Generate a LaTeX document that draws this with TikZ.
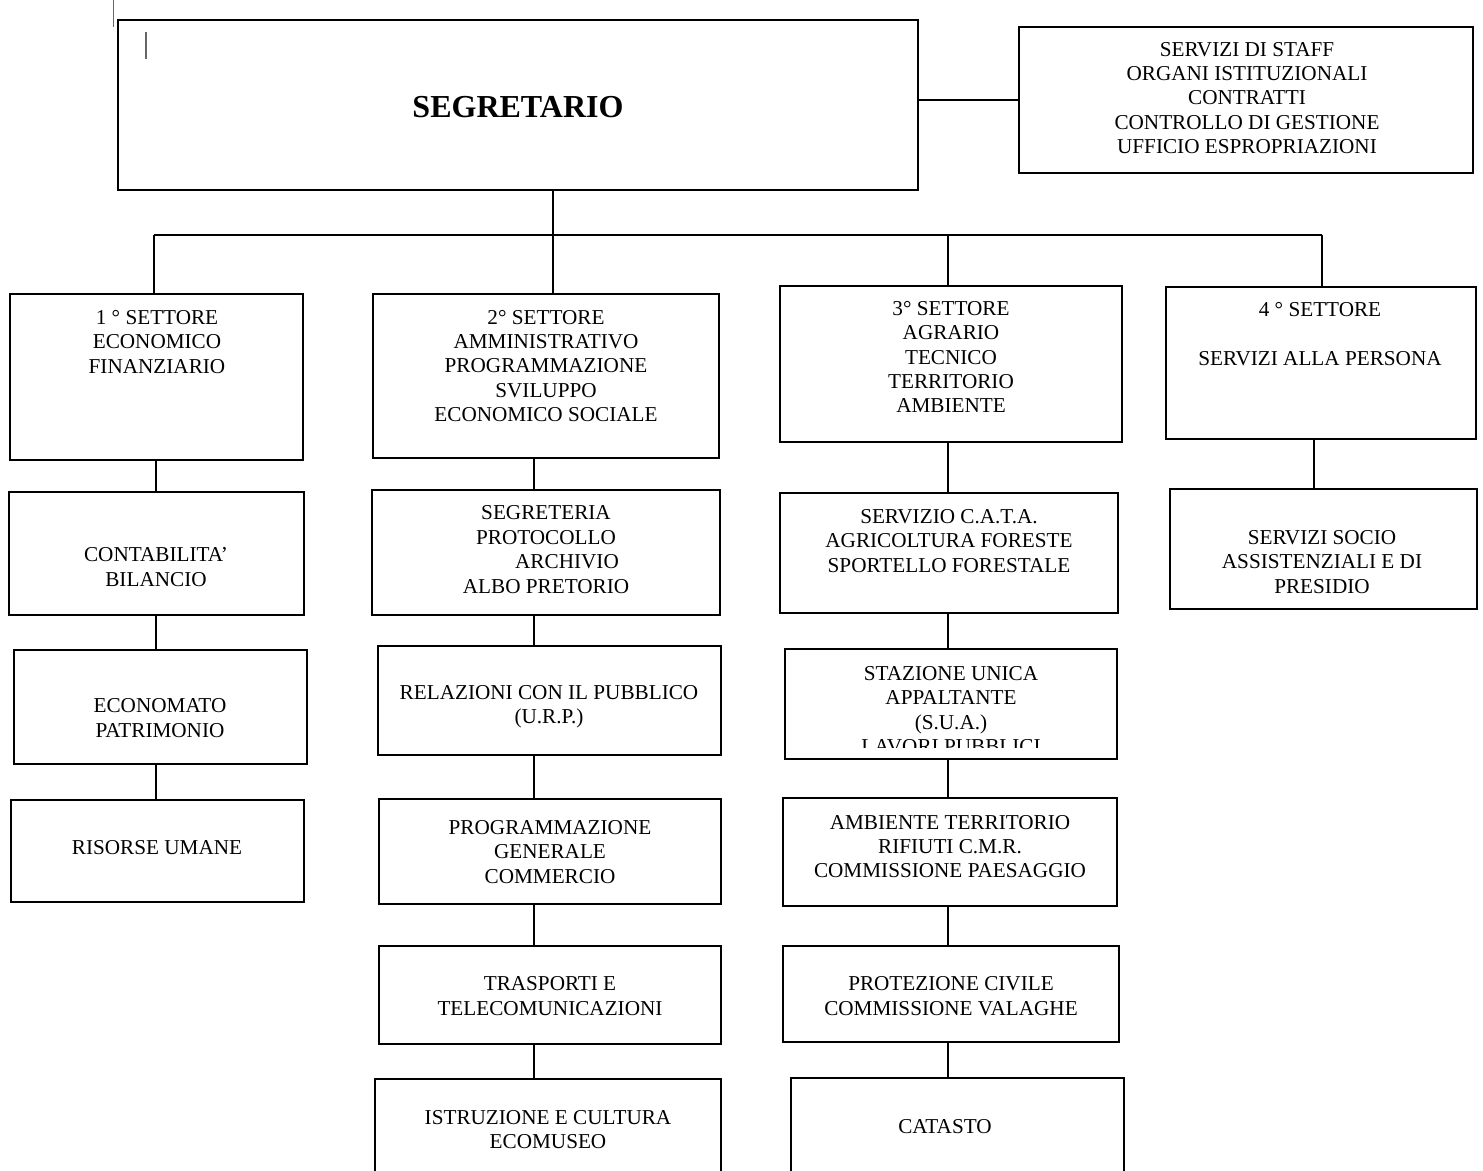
\documentclass[tikz,border=0pt]{standalone}
\usepackage{fontspec}
\setmainfont{Liberation Serif}
\usetikzlibrary{fit, positioning}

\begin{document}
\begin{tikzpicture}[
            x = 0.5pt, % one unit = one pixel of the sheet
            y = -0.5pt, % y grows downwards
            line width = 0.8pt, % line style
        ]
\tikzstyle{box}=[
            shape = rectangle,
            draw = black,
            inner sep = 0pt
        ]
\tikzstyle{boxtext}=[
            align = center,
            inner sep = 0pt,
            font = \fontsize{10.6}{12.2}\selectfont
        ]
\tikzstyle{cursor}=[
            draw = black!60,
            line width = 0.7pt
        ]
\useasboundingbox (0,0) rectangle (1483,1171);
\clip (0,0) rectangle (1483,1171);

% stray marks at the top
\draw[cursor] (113.5,0) -- (113.5,27);
\draw[cursor] (146,32) -- (146,59);

% top level
\node[box, fit={(118,20) (918,190)}](seg){};
\node[box, fit={(1019,27) (1473,173)}](staff){};
\node[boxtext, font=\fontsize{16}{19}\selectfont\bfseries](segt) at (518,107){SEGRETARIO};
\node[boxtext](stafft) at (1247,98){SERVIZI DI STAFF\\ORGANI ISTITUZIONALI\\CONTRATTI\\CONTROLLO DI GESTIONE\\UFFICIO ESPROPRIAZIONI};

% settori
\node[box, fit={(10,294) (303,460)}](s1){};
\node[box, fit={(373,294) (719,458)}](s2){};
\node[box, fit={(780,286) (1122,442)}](s3){};
\node[box, fit={(1166,287) (1476,439)}](s4){};
\node[boxtext](s1t) at (157,342){1 ° SETTORE\\ECONOMICO\\FINANZIARIO};
\node[boxtext](s2t) at (546,366){2° SETTORE\\AMMINISTRATIVO\\PROGRAMMAZIONE\\SVILUPPO\\ECONOMICO SOCIALE};
\node[boxtext](s3t) at (951,357){3° SETTORE\\AGRARIO\\TECNICO\\TERRITORIO\\AMBIENTE};
\node[boxtext](s4t) at (1320,334.5){4 ° SETTORE\\[12.2pt]SERVIZI ALLA PERSONA};

% 1 settore
\node[box, fit={(9,492) (304,615)}](s1a){};
\node[box, fit={(14,650) (307,764)}](s1b){};
\node[box, fit={(11,800) (304,902)}](s1c){};
\node[boxtext](s1at) at (156,567){CONTABILITA’\\BILANCIO};
\node[boxtext](s1bt) at (160,718){ECONOMATO\\PATRIMONIO};
\node[boxtext](s1ct) at (157,848){RISORSE UMANE};

% 2 settore
\node[box, fit={(372,490) (720,615)}](s2a){};
\node[box, fit={(378,646) (721,755)}](s2b){};
\node[box, fit={(379,799) (721,904)}](s2c){};
\node[box, fit={(379,946) (721,1044)}](s2d){};
\node[box, fit={(375,1079) (721,1200)}](s2e){};
\node[boxtext](s2at) at (546,549.5){SEGRETERIA\\PROTOCOLLO\\\hspace*{21pt}ARCHIVIO\\ALBO PRETORIO};
\node[boxtext](s2bt) at (549,707){RELAZIONI CON IL PUBBLICO\\(U.R.P.)};
\node[boxtext](s2ct) at (550,852){PROGRAMMAZIONE\\GENERALE\\COMMERCIO};
\node[boxtext](s2dt) at (550,996){TRASPORTI E\\TELECOMUNICAZIONI};
\node[boxtext](s2et) at (548,1129.5){ISTRUZIONE E CULTURA\\ECOMUSEO};

% 3 settore
\node[box, fit={(780,493) (1118,613)}](s3a){};
\node[box, fit={(785,649) (1117,759)}](s3b){};
\node[box, fit={(783,798) (1117,906)}](s3c){};
\node[box, fit={(783,946) (1119,1042)}](s3d){};
\node[box, fit={(791,1078) (1124,1200)}](s3e){};
\node[boxtext](s3at) at (949,541){SERVIZIO C.A.T.A.\\AGRICOLTURA FORESTE\\SPORTELLO FORESTALE};
\begin{scope}
\clip (s3b.north west) rectangle (1117,747);
\node[boxtext](s3bt) at (951,710){STAZIONE UNICA\\APPALTANTE\\(S.U.A.)\\LAVORI PUBBLICI};
\end{scope}
\node[boxtext](s3ct) at (950,846.5){AMBIENTE TERRITORIO\\RIFIUTI C.M.R.\\COMMISSIONE PAESAGGIO};
\node[boxtext](s3dt) at (951,996){PROTEZIONE CIVILE\\COMMISSIONE VALAGHE};
\node[boxtext](s3et) at (945,1127){CATASTO};

% 4 settore
\node[box, fit={(1170,489) (1477,609)}](s4a){};
\node[boxtext](s4at) at (1322,562){SERVIZI SOCIO\\ASSISTENZIALI E DI\\PRESIDIO};

% connectors
\coordinate (bus1) at (154,235);
\coordinate (bus2) at (553,235);
\coordinate (bus3) at (948,235);
\coordinate (bus4) at (1322,235);
\coordinate (c1) at (156,0);
\coordinate (c2) at (534,0);
\coordinate (c3) at (948,0);
\coordinate (c4) at (1314,0);
\draw (staff.west) -- (staff.west -| seg.east);
\draw (bus2 |- seg.south) -- (bus2);
\draw (bus1) -- (bus4);
\foreach \i in {1,...,4} \draw (bus\i) -- (bus\i |- s\i.north);
\foreach \a/\b in {s1/s1a, s1a/s1b, s1b/s1c}
    \draw (c1 |- \a.south) -- (c1 |- \b.north);
\foreach \a/\b in {s2/s2a, s2a/s2b, s2b/s2c, s2c/s2d, s2d/s2e}
    \draw (c2 |- \a.south) -- (c2 |- \b.north);
\foreach \a/\b in {s3/s3a, s3a/s3b, s3b/s3c, s3c/s3d, s3d/s3e}
    \draw (c3 |- \a.south) -- (c3 |- \b.north);
\draw (c4 |- s4.south) -- (c4 |- s4a.north);
\end{tikzpicture}
\end{document}
